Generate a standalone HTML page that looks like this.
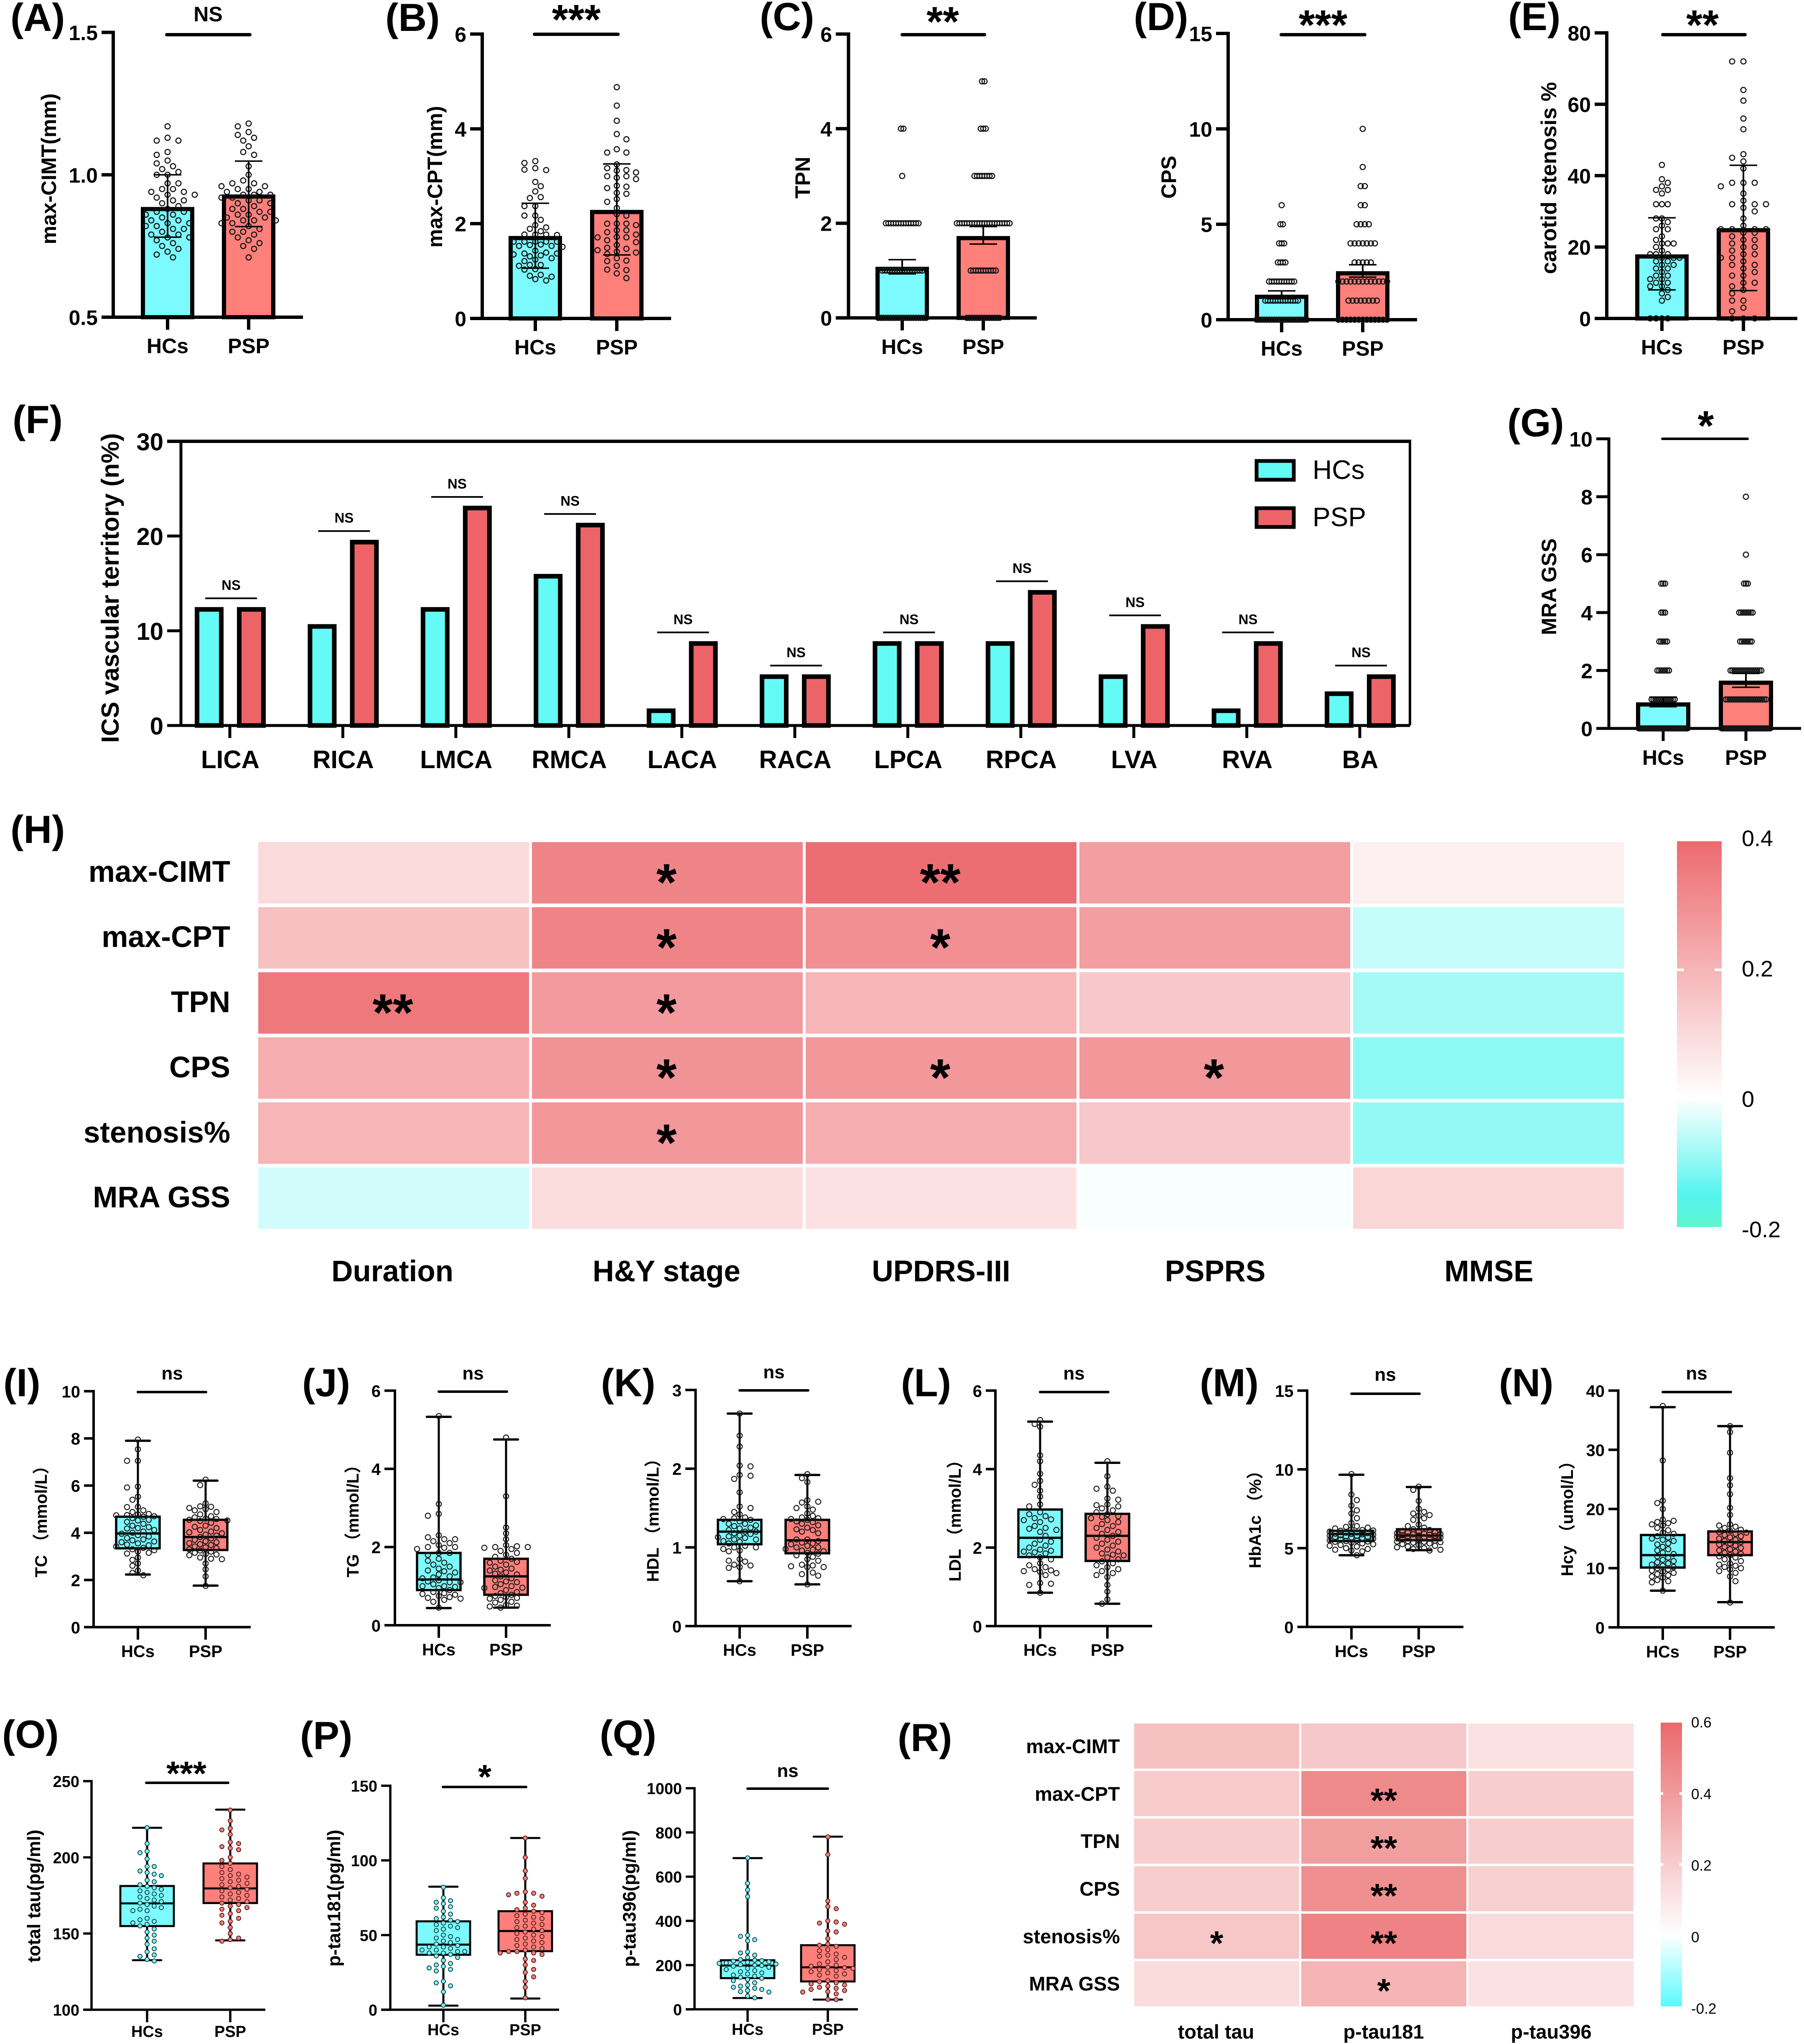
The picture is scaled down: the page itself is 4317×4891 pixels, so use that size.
<!DOCTYPE html>
<html lang="en">
<head>
<meta charset="utf-8">
<title>Carotid and intracranial stenosis panels</title>
<style>
html,body{margin:0;padding:0;background:#fff;}
svg{display:block;}
text{font-family:"Liberation Sans","Noto Sans CJK SC",sans-serif;fill:#000;}
.pl{font-weight:bold;font-size:94px;}
.b50{font-weight:bold;font-size:50px;}
.b40{font-weight:bold;font-size:40px;}
.b38{font-weight:bold;font-size:38px;}
.b44{font-weight:bold;font-size:44px;}
.b70{font-weight:bold;font-size:71px;}
.b46{font-weight:bold;font-size:47px;}
.b59{font-weight:bold;font-size:59px;}
.st{font-weight:bold;font-size:100px;}
.st8{font-weight:bold;font-size:82px;}
.m{text-anchor:middle;}
.e{text-anchor:end;}
.sig{stroke:#000;stroke-width:8;stroke-linecap:round;}
</style>
</head>
<body>
<svg id="chart" xmlns="http://www.w3.org/2000/svg" width="4317" height="4891" viewBox="0 0 4317 4891">
<rect x="0" y="0" width="4317" height="4891" fill="#fff"/>
<g id="marks"></g>

<text class="pl" x="25" y="74">(A)</text>
<text class="pl" x="922" y="74">(B)</text>
<text class="pl" x="1818" y="72">(C)</text>
<text class="pl" x="2713" y="72">(D)</text>
<text class="pl" x="3609" y="72">(E)</text>
<text class="pl" x="30" y="1036">(F)</text>
<text class="pl" x="3607" y="1044">(G)</text>
<text class="pl" x="25" y="2017">(H)</text>
<text class="pl" x="8" y="3341">(I)</text>
<text class="pl" x="723" y="3341">(J)</text>
<text class="pl" x="1438" y="3341">(K)</text>
<text class="pl" x="2156" y="3341">(L)</text>
<text class="pl" x="2871" y="3341">(M)</text>
<text class="pl" x="3587" y="3341">(N)</text>
<text class="pl" x="5" y="4182">(O)</text>
<text class="pl" x="718" y="4185">(P)</text>
<text class="pl" x="1435" y="4182">(Q)</text>
<text class="pl" x="2148" y="4190">(R)</text>

<text class="b50 m" transform="translate(134,404) rotate(-90)">max-CIMT(mm)</text>
<text class="b50 m" transform="translate(1058,423) rotate(-90)">max-CPT(mm)</text>
<text class="b50 m" transform="translate(1938,425) rotate(-90)">TPN</text>
<text class="b50 m" transform="translate(2814,424) rotate(-90)">CPS</text>
<text class="b50 m" transform="translate(3724,426) rotate(-90)" style="font-size:52px">carotid stenosis %</text>
<text class="b59 m" transform="translate(284,1407) rotate(-90)">ICS vascular territory (n%)</text>
<text class="b50 m" transform="translate(3724,1404) rotate(-90)">MRA GSS</text>
<text class="b40 m" transform="translate(112,3631) rotate(-90)">TC （mmol/L）</text>
<text class="b40 m" transform="translate(858,3630) rotate(-90)">TG （mmol/L）</text>
<text class="b40 m" transform="translate(1576,3628) rotate(-90)">HDL （mmol/L）</text>
<text class="b40 m" transform="translate(2299,3629) rotate(-90)">LDL （mmol/L）</text>
<text class="b40 m" transform="translate(3017,3626) rotate(-90)">HbA1c （%）</text>
<text class="b40 m" transform="translate(3764,3624) rotate(-90)">Hcy （umol/L）</text>
<text class="b44 m" transform="translate(96,4537) rotate(-90)">total tau(pg/ml)</text>
<text class="b44 m" transform="translate(814,4542) rotate(-90)">p-tau181(pg/ml)</text>
<text class="b44 m" transform="translate(1521,4543) rotate(-90)">p-tau396(pg/ml)</text>

<line class="sig" x1="399" x2="598" y1="83" y2="83"/>
<line class="sig" x1="1279" x2="1479" y1="82" y2="82"/>
<line class="sig" x1="2159" x2="2356" y1="83" y2="83"/>
<line class="sig" x1="3066" x2="3266" y1="83" y2="83"/>
<line class="sig" x1="3979" x2="4176" y1="83" y2="83"/>
<line class="sig" x1="3978" x2="4182" y1="1050" y2="1050" style="stroke-width:6"/>
<line class="sig" x1="330" x2="493" y1="3331" y2="3331" style="stroke-width:6"/>
<line class="sig" x1="1050" x2="1213" y1="3330" y2="3330" style="stroke-width:6"/>
<line class="sig" x1="1770" x2="1934" y1="3327" y2="3327" style="stroke-width:6"/>
<line class="sig" x1="2489" x2="2652" y1="3331" y2="3331" style="stroke-width:6"/>
<line class="sig" x1="3234" x2="3397" y1="3335" y2="3335" style="stroke-width:6"/>
<line class="sig" x1="3979" x2="4142" y1="3331" y2="3331" style="stroke-width:6"/>
<line class="sig" x1="350" x2="546" y1="4266" y2="4266" style="stroke-width:6"/>
<line class="sig" x1="1060" x2="1259" y1="4276" y2="4276" style="stroke-width:6"/>
<line class="sig" x1="1789" x2="1981" y1="4280" y2="4280" style="stroke-width:6"/>

<text class="b50 m" x="498" y="51">NS</text>
<text class="st m" x="1379" y="81">***</text>
<text class="st m" x="2256" y="86">**</text>
<text class="st m" x="3166" y="94">***</text>
<text class="st m" x="4074" y="94">**</text>
<text class="st m" x="4082" y="1053">*</text>
<text class="b44 m" x="412" y="3301">ns</text>
<text class="b44 m" x="1132" y="3301">ns</text>
<text class="b44 m" x="1852" y="3298">ns</text>
<text class="b44 m" x="2570" y="3301">ns</text>
<text class="b44 m" x="3315" y="3304">ns</text>
<text class="b44 m" x="4060" y="3301">ns</text>
<text class="st8 m" x="446" y="4272">***</text>
<text class="st8 m" x="1160" y="4280">*</text>
<text class="b44 m" x="1885" y="4252">ns</text>

<text class="b50 m" x="401" y="845">HCs</text>
<text class="b50 m" x="595" y="845">PSP</text>
<text class="b50 m" x="1281" y="848">HCs</text>
<text class="b50 m" x="1476" y="848">PSP</text>
<text class="b50 m" x="2159" y="847">HCs</text>
<text class="b50 m" x="2353" y="847">PSP</text>
<text class="b50 m" x="3067" y="851">HCs</text>
<text class="b50 m" x="3261" y="851">PSP</text>
<text class="b50 m" x="3977" y="848">HCs</text>
<text class="b50 m" x="4172" y="848">PSP</text>
<text class="b50 m" x="3980" y="1830">HCs</text>
<text class="b50 m" x="4178" y="1830">PSP</text>
<text class="b40 m" x="330" y="3965">HCs</text>
<text class="b40 m" x="492" y="3965">PSP</text>
<text class="b40 m" x="1050" y="3961">HCs</text>
<text class="b40 m" x="1211" y="3961">PSP</text>
<text class="b40 m" x="1770" y="3962">HCs</text>
<text class="b40 m" x="1932" y="3962">PSP</text>
<text class="b40 m" x="2489" y="3962">HCs</text>
<text class="b40 m" x="2650" y="3962">PSP</text>
<text class="b40 m" x="3234" y="3965">HCs</text>
<text class="b40 m" x="3395" y="3965">PSP</text>
<text class="b40 m" x="3979" y="3966">HCs</text>
<text class="b40 m" x="4140" y="3966">PSP</text>
<text class="b38 m" x="352" y="4874">HCs</text>
<text class="b38 m" x="551" y="4874">PSP</text>
<text class="b38 m" x="1061" y="4870">HCs</text>
<text class="b38 m" x="1257" y="4870">PSP</text>
<text class="b38 m" x="1789" y="4869">HCs</text>
<text class="b38 m" x="1981" y="4869">PSP</text>

<rect x="3007" y="1103" width="89" height="45" fill="#64faf5" stroke="#000" stroke-width="9"/>
<text x="3141" y="1146" style="font-size:64px">HCs</text>
<rect x="3007" y="1216" width="89" height="45" fill="#ec6468" stroke="#000" stroke-width="9"/>
<text x="3141" y="1259" style="font-size:64px">PSP</text>

<text class="b70 e" x="551" y="2110">max-CIMT</text>
<text class="b70 e" x="551" y="2266">max-CPT</text>
<text class="b70 e" x="551" y="2422">TPN</text>
<text class="b70 e" x="551" y="2578">CPS</text>
<text class="b70 e" x="551" y="2734">stenosis%</text>
<text class="b70 e" x="551" y="2889">MRA GSS</text>
<text class="b70 m" x="939" y="3066">Duration</text>
<text class="b70 m" x="1595" y="3066">H&amp;Y stage</text>
<text class="b70 m" x="2252" y="3066">UPDRS-III</text>
<text class="b70 m" x="2908" y="3066">PSPRS</text>
<text class="b70 m" x="3563" y="3066">MMSE</text>

<text class="b46 e" x="2680" y="4195">max-CIMT</text>
<text class="b46 e" x="2680" y="4309">max-CPT</text>
<text class="b46 e" x="2680" y="4422">TPN</text>
<text class="b46 e" x="2680" y="4536">CPS</text>
<text class="b46 e" x="2680" y="4650">stenosis%</text>
<text class="b46 e" x="2680" y="4763">MRA GSS</text>
<text class="b46 m" x="2910" y="4878">total tau</text>
<text class="b46 m" x="3311" y="4878">p-tau181</text>
<text class="b46 m" x="3712" y="4878">p-tau396</text>
</svg>

<script>
const aTicks = ['0.5','1.0','1.5'];
const aMeans = [0.887, 0.931];
const aErrLow = [0.781, 0.818];
const aErrHigh = [1.0, 1.048];
const aHcs = [1.17,1.13,1.12,1.12,1.08,1.07,1.05,1.04,1.03,1.02,1.01,1.0,1.0,.97,.97,.95,.95,.94,.94,.93,.93,.92,.91,.91,.9,.89,.88,.87,.87,.86,.86,.85,.84,.84,.83,.83,.82,.82,.81,.81,.8,.79,.79,.78,.78,.77,.76,.75,.74,.73,.72,.71];
const aPsp = [1.18,1.17,1.15,1.14,1.13,1.12,1.1,1.08,1.07,1.03,1.0,.98,.97,.97,.96,.96,.95,.95,.94,.94,.93,.93,.93,.92,.92,.91,.91,.9,.9,.89,.88,.88,.87,.87,.86,.86,.85,.85,.84,.84,.84,.83,.83,.82,.81,.8,.8,.79,.78,.77,.76,.75,.74,.71];

const bTicks = ['0','2','4','6'];
const bMeans = [1.74, 2.29];
const bErrLow = [1.06, 1.34];
const bErrHigh = [2.43, 3.26];
const bHcs = [3.32,3.28,3.17,3.14,3.13,2.88,2.79,2.68,2.56,2.54,2.37,2.37,2.17,2.17,2.08,1.97,1.92,1.89,1.84,1.77,1.77,1.76,1.77,1.62,1.62,1.62,1.62,1.62,1.56,1.55,1.53,1.53,1.51,1.43,1.37,1.37,1.39,1.35,1.33,1.31,1.27,1.24,1.21,1.13,1.13,1.11,1.04,1.03,.92,.9,.88,.83,.8];
const bPsp = [4.88,4.49,4.17,3.89,3.78,3.57,3.5,3.5,3.25,3.17,3.13,3.12,3.08,3.0,3.0,2.97,2.94,2.8,2.78,2.75,2.65,2.63,2.52,2.46,2.33,2.2,2.17,2.0,2.0,2.0,1.97,1.86,1.86,1.82,1.77,1.72,1.71,1.71,1.65,1.61,1.55,1.49,1.47,1.44,1.41,1.39,1.36,1.27,1.22,1.21,1.11,1.03,1.02,.95,.85];

const cTicks = ['0','2','4','6'];
const cMeans = [1.08, 1.73];
const cErrLow = [0.93, 1.56];
const cErrHigh = [1.23, 1.93];
const cLevels = [0,1,2,3,4,5];
const cHcsCounts = [20,17,14,1,2,0];
const cPspCounts = [14,11,22,8,3,2];

const dTicks = ['0','5','10','15'];
const dMeans = [1.31, 2.54];
const dErrLow = [1.1, 2.23];
const dErrHigh = [1.51, 2.88];
const dLevels = [0,1,2,3,4,5,6,7,8,10];
const dHcsCounts = [21,14,11,4,3,2,1,0,0,0];
const dPspCounts = [13,8,13,5,7,4,2,2,1,1];

const eTicks = ['0','20','40','60','80'];
const eMeans = [17.95, 25.3];
const eErrLow = [8, 7.8];
const eErrHigh = [28.2, 42.9];
const eHcs = [43,39,38,37,36,36,35,32,32,32,28,28,27,26,25,25,23,22,21,21,21,20,19,18,18,18,17,17,17,16,16,15,15,14,14,13,12,12,11,11,10,10,9,9,8,7,6,5,0,0,0,0];
const ePsp = [72,72,64,61,56,53,46,45,44,42,38,38,38,37,35,33,32,32,32,31,30,28,26,25,25,25,25,24,24,23,22,22,21,20,20,19,18,18,17,17,16,15,15,14,13,12,12,10,10,9,8,7,5,5,3,2,0,0,0];

const gTicks = ['0','2','4','6','8','10'];
const gMeans = [0.9, 1.65];
const gErrLow = [0.75, 1.42];
const gErrHigh = [1.08, 1.9];
const gLevels = [0,1,2,3,4,5,6,8];
const gHcsCounts = [26,13,7,5,3,3,0,0];
const gPspCounts = [26,22,17,7,8,3,1,1];

const fTicks = ['0','10','20','30'];
const fCategories = ['LICA','RICA','LMCA','RMCA','LACA','RACA','LPCA','RPCA','LVA','RVA','BA'];
const fHcsValues = [12.5,10.7,12.5,16,1.8,5.4,8.9,8.9,5.4,1.8,3.6];
const fPspValues = [12.5,19.6,23.2,21.4,8.9,5.4,8.9,14.3,10.7,8.9,5.4];
const fSignificance = ['NS','NS','NS','NS','NS','NS','NS','NS','NS','NS','NS'];

const iTicks = ['0','2','4','6','8','10'];
const iBoxes = [[2.23,3.34,3.97,4.68,7.9],[1.76,3.27,3.82,4.55,6.21]];
const iHcs = [7.95,7.54,7.05,7.05,5.96,5.92,5.53,5.4,5.1,5.09,4.95,4.88,4.8,4.78,4.75,4.74,4.7,4.68,4.62,4.55,4.52,4.46,4.38,4.3,4.24,4.2,4.18,4.12,4.05,4.0,3.96,3.9,3.84,3.78,3.72,3.68,3.63,3.6,3.55,3.5,3.47,3.42,3.36,3.3,3.26,3.2,3.15,3.12,2.95,2.85,2.7,2.6,2.4,2.3,2.2];
const iPsp = [6.25,6.02,5.25,5.12,5.1,5.05,5.0,4.95,4.88,4.78,4.7,4.65,4.6,4.58,4.55,4.52,4.5,4.42,4.3,4.25,4.2,4.12,4.05,4.02,3.98,3.92,3.88,3.82,3.76,3.7,3.64,3.6,3.56,3.52,3.48,3.42,3.38,3.35,3.3,3.25,3.2,3.15,3.1,3.08,3.05,2.95,2.9,2.88,2.7,2.45,2.15,1.75];

const jTicks = ['0','2','4','6'];
const jBoxes = [[0.44,0.9,1.17,1.85,5.33],[0.45,0.78,1.25,1.7,4.75]];
const jHcs = [5.35,3.1,2.85,2.8,2.3,2.25,2.2,2.2,2.15,2.1,2.05,2.0,2.0,1.98,1.95,1.85,1.85,1.8,1.7,1.65,1.6,1.55,1.5,1.45,1.4,1.38,1.35,1.3,1.25,1.22,1.2,1.15,1.12,1.1,1.1,1.05,1.0,1.0,.98,.95,.9,.85,.82,.8,.78,.75,.72,.7,.68,.65,.6,.45];
const jPsp = [4.8,3.3,2.5,2.35,2.2,2.05,2.02,2.0,2.0,1.98,1.95,1.9,1.85,1.8,1.75,1.7,1.65,1.62,1.6,1.55,1.5,1.45,1.42,1.4,1.35,1.32,1.3,1.25,1.2,1.15,1.12,1.1,1.05,1.0,.98,.96,.95,.9,.85,.82,.78,.75,.72,.7,.68,.65,.6,.58,.52,.5,.48,.45];

const kTicks = ['0','1','2','3'];
const kBoxes = [[0.57,1.04,1.2,1.35,2.7],[0.53,0.925,1.09,1.35,1.92]];
const kHcs = [2.7,2.42,2.28,2.04,2.03,1.92,1.91,1.87,1.7,1.52,1.5,1.45,1.42,1.38,1.37,1.36,1.35,1.33,1.3,1.3,1.28,1.27,1.25,1.24,1.22,1.2,1.2,1.18,1.17,1.15,1.14,1.13,1.12,1.1,1.1,1.08,1.07,1.05,1.02,1.0,1.0,.98,.96,.95,.85,.83,.82,.78,.77,.75,.74,.57];
const kPsp = [1.93,1.88,1.83,1.6,1.58,1.57,1.52,1.5,1.48,1.43,1.4,1.38,1.37,1.36,1.35,1.33,1.32,1.3,1.28,1.25,1.23,1.22,1.2,1.18,1.1,1.1,1.08,1.06,1.05,1.04,1.02,1.0,1.0,.98,.97,.96,.95,.93,.92,.9,.88,.85,.83,.78,.77,.76,.75,.75,.68,.66,.64,.53];

const lTicks = ['0','2','4','6'];
const lBoxes = [[0.85,1.76,2.25,2.97,5.21],[0.57,1.66,2.3,2.86,4.16]];
const lHcs = [5.25,5.15,5.08,4.35,4.2,3.88,3.7,3.6,3.45,3.3,3.1,3.05,2.9,2.85,2.8,2.75,2.72,2.7,2.65,2.55,2.5,2.48,2.45,2.4,2.3,2.2,2.15,2.1,2.05,2.0,1.95,1.92,1.9,1.88,1.85,1.8,1.75,1.7,1.6,1.55,1.5,1.45,1.42,1.4,1.38,1.35,1.3,1.1,1.08,1.05,.85];
const lPsp = [4.2,3.82,3.55,3.5,3.45,3.25,3.22,3.1,3.08,3.05,3.0,2.95,2.9,2.85,2.8,2.78,2.75,2.7,2.65,2.6,2.55,2.5,2.45,2.4,2.35,2.3,2.25,2.2,2.15,2.1,2.05,2.0,1.95,1.9,1.85,1.82,1.8,1.75,1.7,1.65,1.6,1.55,1.5,1.45,1.4,1.35,1.3,1.25,1.05,.88,.68,.57];

const mTicks = ['0','5','10','15'];
const mBoxes = [[4.55,5.45,5.9,6.1,9.66],[4.87,5.5,5.8,6.2,8.88]];
const mHcs = [9.7,8.4,8.05,7.7,7.4,7.2,6.9,6.6,6.4,6.35,6.3,6.25,6.2,6.15,6.12,6.1,6.05,6.0,5.98,5.95,5.92,5.9,5.88,5.85,5.82,5.8,5.78,5.75,5.72,5.7,5.68,5.65,5.6,5.55,5.5,5.48,5.45,5.42,5.4,5.35,5.3,5.25,5.2,5.15,5.1,5.0,4.95,4.9,4.85,4.8,4.55];
const mPsp = [8.9,8.7,8.0,7.5,7.3,7.2,7.1,7.05,6.9,6.8,6.5,6.4,6.3,6.2,6.15,6.1,6.05,6.0,5.98,5.95,5.92,5.9,5.88,5.85,5.82,5.8,5.78,5.75,5.72,5.7,5.68,5.65,5.6,5.55,5.5,5.48,5.45,5.42,5.4,5.38,5.35,5.3,5.25,5.2,5.15,5.1,5.05,5.0,4.95,4.9,4.85];

const nTicks = ['0','10','20','30','40'];
const nBoxes = [[6.2,10.1,12.2,15.6,37.2],[4.25,12.2,14.4,16.2,34]];
const nHcs = [37.4,28.2,21.4,21,20,18.2,18,17.8,17.6,17.4,17.2,16.8,16.4,16,15.8,15.4,15.2,15,14.8,14.6,14.2,14,13.6,13.2,13,12.6,12.4,12,11.8,11.4,11.2,11,10.8,10.6,10.4,10.2,10,9.8,9.6,9.4,9.2,9,8.8,8.6,8.4,8,7.8,7.6,6.2];
const nPsp = [34,33,29.5,25.2,24,22.5,20.2,19,17.4,17.2,17,16.8,16.5,16.3,16.1,16,15.8,15.6,15.4,15.2,15,14.8,14.6,14.4,14.2,14,13.8,13.6,13.4,13.2,13,12.8,12.6,12.4,12.2,12,11.8,11.5,11.2,10.8,10.6,10.4,10.2,10,9.8,9.5,9.2,8.6,7.8,4.2];

const oTicks = ['100','150','200','250'];
const oBoxes = [[132.5,154.9,169.8,181.2,219.4],[145.5,170,179.6,196,231.3]];
const oHcs = [219.5,209,204,203,199,194,194,191,190,189,188,185,184,182,181,180,179,178,177,176,175,174,173,172,171,170,169,168,167,166,165,165,160,159,158,157,156,155,153,151,149,147,145,143,140,138,136,135,133,132];
const oPsp = [231,224,219,218,215,210,209,207,206,205,200,198,196,194,192,190,189,188,187,186,185,184,183,182,181,180,179,178,177,176,175,174,173,172,171,170,169,168,167,166,165,163,162,160,158,157,154,150,147,146,145];

const pTicks = ['0','50','100','150'];
const pBoxes = [[2.75,36.8,43.6,59.2,82.4],[7.5,39.2,52.7,66,115]];
const pHcs = [82,75,73,72,71,69,68,66,64,62,61,60,59,58,57,56,55,54,53,50,49,48,47,46,45,44,43,42,42,41,40,40,39,39,38,38,37,36,35,33,31,30,29,28,27,26,19,18,16,12,3];
const pPsp = [115,102,93,88,79,78,78,77,76,72,70,68,67,66,65,64,63,62,61,60,59,58,57,56,55,54,53,52,51,50,49,48,47,46,45,44,43,42,41,40,39,39,38,38,37,34,33,30,27,25,22,19,15,8];

const qTicks = ['0','200','400','600','800','1000'];
const qBoxes = [[51,141,198,222,684],[44,126,190,290,781]];
const qHcs = [685,570,540,510,335,330,315,310,260,255,245,235,225,222,220,218,215,212,210,208,205,202,200,198,195,190,185,180,175,170,165,160,155,150,145,140,135,130,120,110,105,100,95,90,85,80,78,60,52];
const qPsp = [780,700,490,465,455,400,395,390,385,355,350,320,295,290,285,270,265,250,245,240,235,225,215,205,200,195,190,188,185,180,175,170,165,160,155,150,130,125,120,115,110,105,100,95,90,85,80,78,70,45,44];

const hValues = [
  [0.1,0.33,0.39,0.26,0.04],
  [0.17,0.33,0.3,0.26,-0.05],
  [0.36,0.27,0.2,0.15,-0.08],
  [0.22,0.29,0.28,0.28,-0.1],
  [0.2,0.28,0.22,0.15,-0.095],
  [-0.04,0.09,0.08,-0.005,0.11]
];
const hStars = [
  ['','*','**','',''],
  ['','*','*','',''],
  ['**','*','','',''],
  ['','*','*','*',''],
  ['','*','','',''],
  ['','','','','']
];
const hScaleTicks = ['-0.2','0','0.2','0.4'];
const rValues = [
  [0.25,0.22,0.12],
  [0.21,0.47,0.2],
  [0.2,0.39,0.2],
  [0.2,0.45,0.19],
  [0.23,0.5,0.15],
  [0.14,0.3,0.12]
];
const rStars = [
  ['','',''],
  ['','**',''],
  ['','**',''],
  ['','**',''],
  ['*','**',''],
  ['','*','']
];
const rScaleTicks = ['-0.2','0','0.2','0.4','0.6'];

const NS = 'http://www.w3.org/2000/svg';
const root = document.getElementById('marks');
const HC_FILL = '#7bfbff';
const PSP_FILL = '#ff7f7b';

function mk(tag, attrs, parent) {
  const el = document.createElementNS(NS, tag);
  for (const k in attrs) el.setAttribute(k, attrs[k]);
  (parent || root).appendChild(el);
  return el;
}

function scaleY(p) {
  return v => p.bot - (v - p.min) / (p.max - p.min) * (p.bot - p.top);
}

function drawAxes(p, ticks, g) {
  const y = scaleY(p);
  const leftAxis = mk('line', {x1:p.ax, x2:p.ax, y1:p.top - p.lw / 2, y2:p.bot, stroke:'#000', 'stroke-width':p.lw}, g);
  
  
  ticks.forEach(label => {
    const v = parseFloat(label);
    const t = mk('line', {x1:p.tickLeft, x2:p.ax, y1:y(v), y2:y(v), stroke:'#000', 'stroke-width':p.lw}, g);
    
    
    const txt = mk('text', {x:p.tickLeft - 9, y:y(v) + p.fs * 0.37, 'text-anchor':'end', 'font-weight':'bold', 'font-size':p.fs}, g);
    txt.textContent = label;
    
    
  });
  const xAxis = mk('line', {x1:p.tickLeft, x2:p.right, y1:p.bot, y2:p.bot, stroke:'#000', 'stroke-width':p.lw}, g);
  
  
  p.cats.forEach(cx => {
    const t = mk('line', {x1:cx, x2:cx, y1:p.bot, y2:p.bot + 30, stroke:'#000', 'stroke-width':p.lw}, g);
    
    
  });
}

function swarmLayout(values, cx, y, step, minD, maxOff) {
  const sorted = values.slice().sort((a, b) => b - a);
  const placed = [];
  let flip = 1;
  sorted.forEach(v => {
    const py = y(v);
    let best = null, bestGap = -1;
    for (let k = 0; ; k++) {
      const offs = k === 0 ? [0] : [k * step * flip, -k * step * flip];
      if (k * step > maxOff) break;
      let found = false;
      for (const o of offs) {
        let gap = 1e9;
        placed.forEach(q => {
          const d = Math.hypot(q.x - (cx + o), q.y - py);
          if (d < gap) gap = d;
        });
        if (gap > bestGap) { bestGap = gap; best = o; }
        if (gap >= minD) { best = o; found = true; break; }
      }
      if (found) break;
    }
    flip = -flip;
    placed.push({x:cx + best, y:py});
  });
  return placed;
}

function rowLayout(levels, counts, cx, y, dx) {
  const pts = [];
  levels.forEach((lv, i) => {
    for (let j = 0; j < counts[i]; j++) {
      pts.push({x:cx + (j - (counts[i] - 1) / 2) * dx, y:y(lv)});
    }
  });
  return pts;
}

function drawPoints(pts, g, r, fill, stroke, sw) {
  pts.forEach(q => {
    const c = mk('circle', {cx:q.x, cy:q.y, r:r, fill:fill, stroke:stroke, 'stroke-width':sw}, g);
    
    
  });
}

function drawBarPanel(p, ticks, means, low, high, ptsByGroup) {
  const g = mk('g', {});
  
  
  const y = scaleY(p);
  const w = p.barW || 128;
  p.cats.forEach((cx, i) => {
    const top = y(means[i]);
    const fillRect = mk('rect', {x:cx - w / 2 + 5, y:top + 5, width:w - 10, height:p.bot - top - 5, fill:i ? PSP_FILL : HC_FILL}, g);
    
    
    const outline = mk('rect', {x:cx - w / 2 + 5, y:top + 5, width:w - 10, height:p.bot - top - 5, fill:'none', stroke:'#000', 'stroke-width':10}, g);
    
    
  });
  drawAxes(p, ticks, g);
  p.cats.forEach((cx, i) => {
    drawPoints(ptsByGroup[i], g, 6.2, 'none', '#161616', 2.6);
    const stem = mk('line', {x1:cx, x2:cx, y1:y(high[i]), y2:y(low[i]), stroke:'#000', 'stroke-width':4}, g);
    
    
    [low[i], high[i]].forEach(v => {
      const cap = mk('line', {x1:cx - 33, x2:cx + 33, y1:y(v), y2:y(v), stroke:'#000', 'stroke-width':3.5}, g);
      
      
    });
  });
}

function drawBoxPanel(p, ticks, boxes, hcs, psp, opts) {
  const g = mk('g', {});
  
  
  const y = scaleY(p);
  [hcs, psp].forEach((vals, i) => {
    const cx = p.cats[i];
    const b = boxes[i];
    const fill = i ? PSP_FILL : HC_FILL;
    const bg = mk('rect', {x:cx - opts.w / 2, y:y(b[3]), width:opts.w, height:y(b[1]) - y(b[3]), fill:fill}, g);
    
    
    const whisker = mk('line', {x1:cx, x2:cx, y1:y(b[4]), y2:y(b[3]), stroke:'#000', 'stroke-width':5}, g);
    
    
    const whiskerLow = mk('line', {x1:cx, x2:cx, y1:y(b[1]), y2:y(b[0]), stroke:'#000', 'stroke-width':5}, g);
    
    
    [b[0], b[4]].forEach(v => {
      const cap = mk('line', {x1:cx - opts.cap / 2, x2:cx + opts.cap / 2, y1:y(v), y2:y(v), stroke:'#000', 'stroke-width':opts.lw, 'stroke-linecap':'round'}, g);
      
      
    });
    const box = mk('rect', {x:cx - opts.w / 2, y:y(b[3]), width:opts.w, height:y(b[1]) - y(b[3]), fill:'none', stroke:'#000', 'stroke-width':opts.lw}, g);
    
    
    const med = mk('line', {x1:cx - opts.w / 2, x2:cx + opts.w / 2, y1:y(b[2]), y2:y(b[2]), stroke:'#000', 'stroke-width':opts.lw}, g);
    
    
  });
  drawAxes(p, ticks, g);
  [hcs, psp].forEach((vals, i) => {
    const step = opts.steps[i];
    const pts = swarmLayout(vals, p.cats[i], y, step, opts.minD, opts.w / 2 + 8);
    const stroke = opts.filled ? (i ? '#5a2424' : '#17494c') : '#1c1c1c';
    drawPoints(pts, g, opts.r, opts.filled ? (i ? PSP_FILL : HC_FILL) : 'none', stroke, opts.sw);
  });
}

function hex(c) { return [1,3,5].map(i => parseInt(c.substr(i,2),16)); }
function rampColor(stops, v) {
  if (v <= stops[0][0]) return stops[0][1];
  for (let i = 1; i < stops.length; i++) {
    if (v <= stops[i][0]) {
      const t = (v - stops[i-1][0]) / (stops[i][0] - stops[i-1][0]);
      const a = hex(stops[i-1][1]), b = hex(stops[i][1]);
      return 'rgb(' + a.map((x, k) => Math.round(x + (b[k] - x) * t)).join(',') + ')';
    }
  }
  return stops[stops.length-1][1];
}

function drawHeatmap(m, values, stars, stops) {
  const g = mk('g', {});
  
  
  values.forEach((row, i) => {
    row.forEach((v, j) => {
      const x = m.x + j * m.px, yy = m.y + i * m.py;
      const cell = mk('rect', {x:x, y:yy, width:m.w, height:m.h, fill:rampColor(stops, v)}, g);
      
      
      if (stars[i][j]) {
        const s = mk('text', {x:x + m.w / 2 + m.sx, y:yy + m.h / 2 + m.sy + m.sfs * 0.56, 'text-anchor':'middle', 'font-weight':'bold', 'font-size':m.sfs}, g);
        s.textContent = stars[i][j];
        
        
      }
    });
  });
}

function drawColorbar(c, ticks, stops) {
  const g = mk('g', {});
  
  
  const y = v => c.bot - (v - c.min) / (c.max - c.min) * (c.bot - c.top);
  const ly = v => c.labelBot - (v - c.min) / (c.max - c.min) * (c.labelBot - c.labelTop);
  const grad = mk('linearGradient', {id:'grad-' + c.id, x1:0, x2:0, y1:0, y2:1}, g);
  stops.slice().reverse().forEach(s => {
    mk('stop', {offset:(c.max - s[0]) / (c.max - c.min), 'stop-color':s[1]}, grad);
  });
  const bar = mk('rect', {x:c.x, y:c.top, width:c.w, height:c.bot - c.top, fill:'url(#grad-' + c.id + ')'}, g);
  
  
  ticks.forEach(label => {
    const v = parseFloat(label);
    if (c.notch.indexOf(label) >= 0) {
      [c.x, c.x + c.w - c.nw].forEach(nx => {
        const n = mk('rect', {x:nx, y:y(v) - 3, width:c.nw, height:6, fill:'#fff'}, g);
        
        
      });
    }
    const t = mk('text', {x:c.x + c.w + c.gap, y:ly(v) + c.fs * 0.36, 'font-size':c.fs}, g);
    t.textContent = label;
    
    
  });
}

function drawGrouped() {
  const p = {top:1056, bot:1736, min:0, max:30, ax:433, tickLeft:400, right:3374, fs:58, lw:7, cats:fCategories.map((_, i) => 550 + i * 270.4)};
  const g = mk('g', {});
  
  
  const y = scaleY(p);
  const frameTop = mk('line', {x1:p.tickLeft, x2:p.right + 3, y1:p.top, y2:p.top, stroke:'#000', 'stroke-width':8}, g);
  
  
  const frameRight = mk('line', {x1:p.right, x2:p.right, y1:p.top, y2:p.bot, stroke:'#000', 'stroke-width':6}, g);
  
  
  fCategories.forEach((cat, i) => {
    const cx = p.cats[i];
    [fHcsValues[i], fPspValues[i]].forEach((v, k) => {
      const bx = cx + (k ? 51.5 : -49.5);
      const r = mk('rect', {x:bx - 29, y:y(v) + 5.5, width:58, height:p.bot - y(v) - 5.5, fill:k ? '#ec6468' : '#64faf5', stroke:'#000', 'stroke-width':11}, g);
      
      
    });
    const topY = y(Math.max(fHcsValues[i], fPspValues[i]));
    const br = mk('line', {x1:cx - 59, x2:cx + 65, y1:topY - 21, y2:topY - 21, stroke:'#000', 'stroke-width':4}, g);
    
    
    const ns = mk('text', {x:cx + 3, y:topY - 41, 'text-anchor':'middle', 'font-weight':'bold', 'font-size':33}, g);
    ns.textContent = fSignificance[i];
    
    
    const lab = mk('text', {x:cx + 1, y:1838, 'text-anchor':'middle', 'font-weight':'bold', 'font-size':60}, g);
    lab.textContent = cat;
    
    
  });
  drawAxes(p, fTicks, g);
}

const panelA = {id:'a', ax:271, top:77.5, bot:759, min:0.5, max:1.5, tickLeft:243, right:725, fs:50, lw:8, cats:[401,595]};
drawBarPanel(panelA, aTicks, aMeans, aErrLow, aErrHigh, [
  swarmLayout(aHcs, 401, scaleY(panelA), 13, 15, 66),
  swarmLayout(aPsp, 595, scaleY(panelA), 13, 15, 66)
]);
const panelB = {id:'b', ax:1154, top:81.5, bot:762, min:0, max:6, tickLeft:1125, right:1606, fs:50, lw:8, cats:[1281,1476]};
drawBarPanel(panelB, bTicks, bMeans, bErrLow, bErrHigh, [
  swarmLayout(bHcs, 1281, scaleY(panelB), 13, 15, 66),
  swarmLayout(bPsp, 1476, scaleY(panelB), 23, 14, 60)
]);
const panelC = {id:'c', ax:2030.5, top:81.5, bot:760.6, min:0, max:6, tickLeft:2000, right:2481, fs:50, lw:8, cats:[2159,2353]};
drawBarPanel(panelC, cTicks, cMeans, cErrLow, cErrHigh, [
  rowLayout(cLevels, cHcsCounts, 2159, scaleY(panelC), 6),
  rowLayout(cLevels, cPspCounts, 2353, scaleY(panelC), 6)
]);
const panelD = {id:'d', ax:2939, top:80, bot:765, min:0, max:15, tickLeft:2910, right:3391, fs:50, lw:8, cats:[3067,3261]};
drawBarPanel(panelD, dTicks, dMeans, dErrLow, dErrHigh, [
  rowLayout(dLevels, dHcsCounts, 3067, scaleY(panelD), 6),
  rowLayout(dLevels, dPspCounts, 3261, scaleY(panelD), 9.7)
]);
const panelE = {id:'e', ax:3845, top:78.6, bot:762, min:0, max:80, tickLeft:3816, right:4301, fs:50, lw:8, cats:[3977,4172]};
drawBarPanel(panelE, eTicks, eMeans, eErrLow, eErrHigh, [
  swarmLayout(eHcs, 3977, scaleY(panelE), 14, 14, 60),
  swarmLayout(ePsp, 4172, scaleY(panelE), 27, 14, 60)
]);
const panelG = {id:'g', ax:3850, top:1050, bot:1743, min:0, max:10, tickLeft:3820, right:4310, fs:50, lw:7, barW:130, cats:[3980,4178]};
drawBarPanel(panelG, gTicks, gMeans, gErrLow, gErrHigh, [
  rowLayout(gLevels, gHcsCounts, 3980, scaleY(panelG), 4.6),
  rowLayout(gLevels, gPspCounts, 4178, scaleY(panelG), 4.6)
]);

drawGrouped();

const smallBox = {w:104, cap:57, r:6.2, sw:2.3, lw:5.5, steps:[13,13], minD:14, filled:false};
drawBoxPanel({id:'i', ax:224, top:3329, bot:3893.5, min:0, max:10, tickLeft:201, right:600, fs:40, lw:6, cats:[330,492]}, iTicks, iBoxes, iHcs, iPsp, smallBox);
drawBoxPanel({id:'j', ax:945, top:3327.6, bot:3889, min:0, max:6, tickLeft:920, right:1318, fs:40, lw:6, cats:[1050,1211]}, jTicks, jBoxes, jHcs, jPsp, smallBox);
drawBoxPanel({id:'k', ax:1664.5, top:3326, bot:3891, min:0, max:3, tickLeft:1640, right:2038, fs:40, lw:6, cats:[1770,1932]}, kTicks, kBoxes, kHcs, kPsp, smallBox);
drawBoxPanel({id:'l', ax:2382, top:3327.5, bot:3891, min:0, max:6, tickLeft:2359, right:2757, fs:40, lw:6, cats:[2489,2650]}, lTicks, lBoxes, lHcs, lPsp, smallBox);
drawBoxPanel({id:'m', ax:3128, top:3327.5, bot:3893, min:0, max:15, tickLeft:3104.5, right:3502, fs:40, lw:6, cats:[3234,3395]}, mTicks, mBoxes, mHcs, mPsp, smallBox);
drawBoxPanel({id:'n', ax:3872.5, top:3327.5, bot:3894, min:0, max:40, tickLeft:3849, right:4247, fs:40, lw:6, cats:[3979,4140]}, nTicks, nBoxes, nHcs, nPsp, smallBox);

const tauBox = {w:128, cap:68, r:5, sw:2, lw:4.8, steps:[17,20], minD:12, filled:true};
drawBoxPanel({id:'o', ax:219, top:4262, bot:4809, min:100, max:250, tickLeft:199, right:635, fs:38, lw:5.5, cats:[352,551]}, oTicks, oBoxes, oHcs, oPsp, tauBox);
drawBoxPanel({id:'p', ax:934, top:4273, bot:4809, min:0, max:150, tickLeft:912, right:1338, fs:38, lw:5.5, cats:[1061,1257]}, pTicks, pBoxes, pHcs, pPsp, tauBox);
drawBoxPanel({id:'q', ax:1662, top:4279, bot:4808, min:0, max:1000, tickLeft:1641, right:2053, fs:38, lw:5.5, cats:[1789,1981]}, qTicks, qBoxes, qHcs, qPsp, tauBox);

const hStops = [[-0.2,'#5ef5d0'],[-0.15,'#55f5ef'],[0,'#ffffff'],[0.4,'#ec6a6e']];
const rStops = [[-0.2,'#5afafd'],[0,'#ffffff'],[0.6,'#ea696b']];
drawHeatmap({id:'h', x:618, y:2015, px:655, py:155.7, w:648, h:147, sx:-2, sy:-4, sfs:125}, hValues, hStars, hStops);
drawHeatmap({id:'r', x:2714, y:4124, px:400, py:113.8, w:395, h:108, sx:0, sy:-1, sfs:82}, rValues, rStars, rStops);
drawColorbar({id:'h', x:4013, w:107, top:2013, bot:2936, labelTop:2005, labelBot:2941, min:-0.2, max:0.4, fs:54, gap:48, nw:17, notch:['0.2']}, hScaleTicks, hStops);
drawColorbar({id:'r', x:3974, w:51, top:4122, bot:4801, labelTop:4121, labelBot:4806, min:-0.2, max:0.6, fs:35, gap:22, nw:6, notch:['0.2','0.4']}, rScaleTicks, rStops);
</script>
</body>
</html>
